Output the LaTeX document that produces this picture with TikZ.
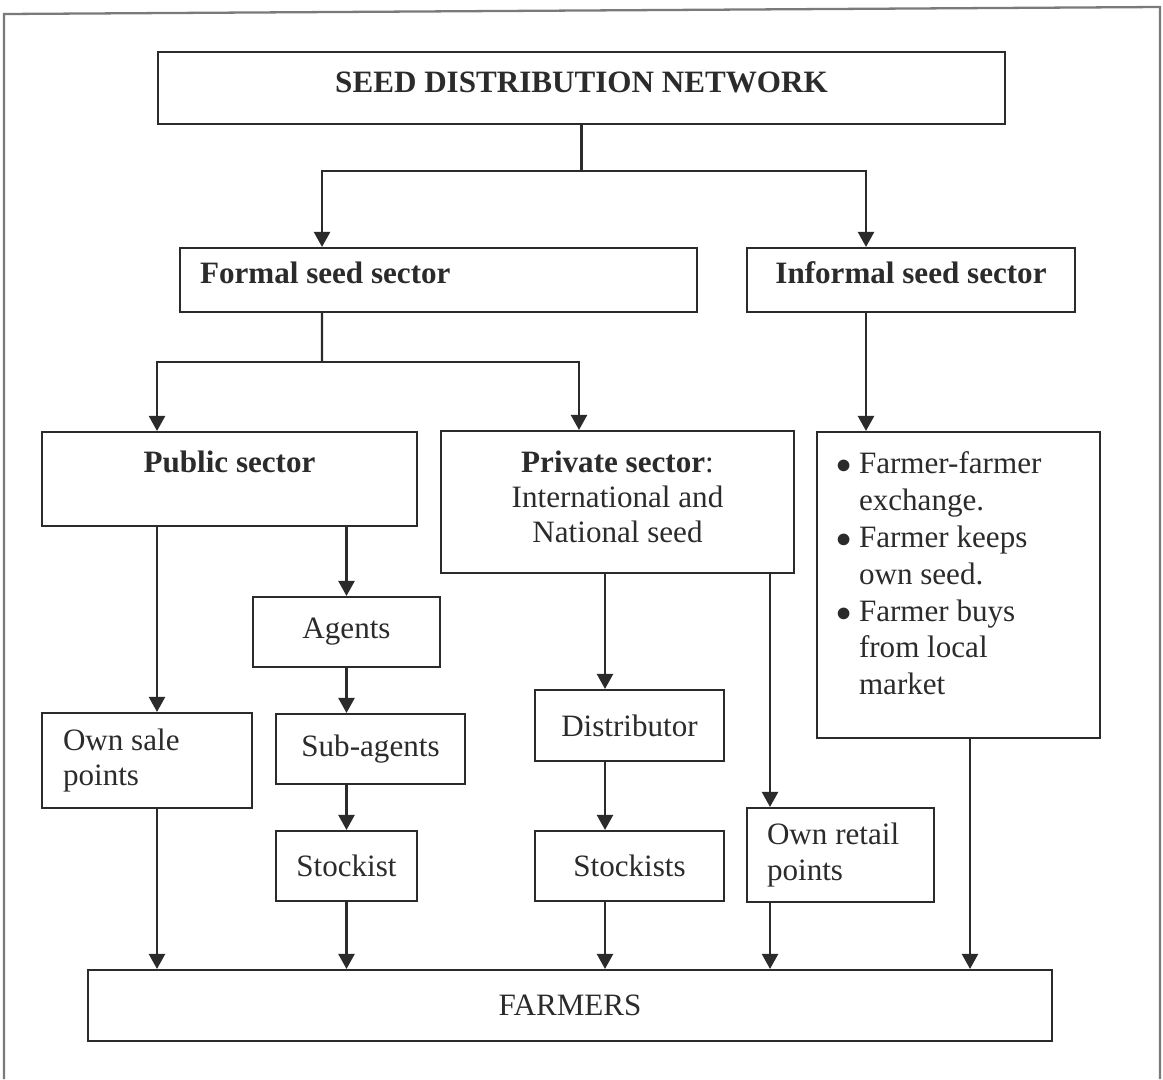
\documentclass[tikz,border=0pt]{standalone}
\usepackage{fontspec}
\setmainfont{Liberation Serif}
\usetikzlibrary{arrows.meta,positioning}
\definecolor{ink}{HTML}{2B2B2B}
\definecolor{framegray}{HTML}{7A7A7A}
\newcommand{\bitem}[1]{\makebox[0.46cm][l]{$\bullet$}#1}
\newcommand{\bcont}[1]{\hspace*{0.46cm}#1}

\begin{document}
\begin{tikzpicture}[x=0.02cm, y=-0.02cm,
    box/.style = {draw=ink, line width=1.2pt, inner sep=0pt, text=ink, font=\fontsize{17.7pt}{20pt}\selectfont},
    head/.style = {box, font=\fontsize{17.7pt}{20pt}\selectfont\bfseries},
    stem/.style = {ink, line width=1.3pt},
    arr/.style = {stem, -{Triangle[width=0.32cm,length=0.3cm]}}]
    \useasboundingbox (0,0) rectangle (1163,1079);
    \draw[framegray, line width=1.3pt] (4,1079) -- (4,14) -- (1160,7) -- (1160,1079);

    \node[head, minimum width=16.94cm, minimum height=1.44cm, text depth=0.24cm] (title) at (581.5,88) {SEED DISTRIBUTION NETWORK};
    \coordinate[below=0.92cm of title] (s1);
    \node[head, minimum width=10.34cm, minimum height=1.28cm, text depth=0.3cm] (formal) at (438.5,280) {\makebox[9.54cm][l]{Formal seed sector}};
    \node[head, minimum width=6.56cm, minimum height=1.28cm, text depth=0.3cm] (informal) at (911,280) {Informal seed sector};
    \coordinate (s2) at (322,362);
    \node[head, minimum width=7.5cm, minimum height=1.88cm, text depth=0.68cm] (public) at (229.5,479) {Public sector};
    \node[box, minimum width=7.06cm, minimum height=2.84cm, align=center] (private) at (617.5,502) {\textbf{Private sector}:\\International and\\National seed\\[-0.5cm]\mbox{}};
    \node[box, inner xsep=0.38cm, inner ysep=0.39cm] (informlist) at (958.5,585) {\parbox[c][5.34cm][t]{4.9cm}{\fontsize{17.7pt}{21pt}\selectfont
        \bitem{Farmer-farmer}\\ \bcont{exchange.}\\
        \bitem{Farmer keeps}\\ \bcont{own seed.}\\
        \bitem{Farmer buys}\\ \bcont{from local}\\ \bcont{market}}};
    \node[box, minimum width=4.2cm, minimum height=1.9cm, text width=3.36cm, inner xsep=0.42cm, align=flush left] (ownsale) at (147,760.5) {Own sale\\points};
    \node[box, minimum width=3.74cm, minimum height=1.4cm] (agents) at (346.5,632) {Agents};
    \node[box, minimum width=3.78cm, minimum height=1.4cm] (subagents) at (370.5,749) {Sub-agents};
    \node[box, minimum width=2.82cm, minimum height=1.4cm] (stockist) at (346.5,866) {Stockist};
    \node[box, minimum width=3.78cm, minimum height=1.42cm] (distributor) at (629.5,725.5) {Distributor};
    \node[box, minimum width=3.78cm, minimum height=1.4cm] (stockists) at (629.5,866) {Stockists};
    \node[box, minimum width=3.74cm, minimum height=1.88cm, text width=2.94cm, inner xsep=0.4cm, align=flush left] (ownretail) at (840.5,855) {Own retail\\points};
    \node[box, minimum width=19.28cm, minimum height=1.42cm] (farmers) at (570,1005.5) {FARMERS};

    % network and sectors
    \draw[stem] (title) -- (s1);
    \draw[arr] (s1) -| ([xshift=-2.33cm]formal.north);
    \draw[arr] (s1) -| ([xshift=-0.9cm]informal.north);
    \draw[stem] ([xshift=-2.33cm]formal.south) -- (s2);
    \draw[arr] (s2) -| ([xshift=-1.45cm]public.north);
    \draw[arr] (s2) -| ([xshift=-0.77cm]private.north);
    \draw[arr] ([xshift=-0.9cm]informal.south) -- ([xshift=-0.9cm]informal.south |- informlist.north);
    % public chain
    \draw[arr] ([xshift=0.2cm]ownsale.north |- public.south) -- ([xshift=0.2cm]ownsale.north);
    \draw[arr] (agents |- public.south) -- (agents);
    \draw[arr] (agents) -- (agents |- subagents.north);
    \draw[arr] (stockist |- subagents.south) -- (stockist);
    % private chain
    \draw[arr] ([xshift=-0.49cm]distributor.north |- private.south) -- ([xshift=-0.49cm]distributor.north);
    \draw[arr] ([xshift=-0.49cm]distributor.south) -- ([xshift=-0.49cm]stockists.north);
    \draw[arr] ([xshift=-1.41cm]ownretail.north |- private.south) -- ([xshift=-1.41cm]ownretail.north);
    % to farmers
    \draw[arr] ([xshift=0.2cm]ownsale.south) -- ([xshift=0.2cm]ownsale.south |- farmers.north);
    \draw[arr] (stockist) -- (stockist |- farmers.north);
    \draw[arr] ([xshift=-0.49cm]stockists.south) -- ([xshift=-0.49cm]stockists.south |- farmers.north);
    \draw[arr] ([xshift=-1.41cm]ownretail.south) -- ([xshift=-1.41cm]ownretail.south |- farmers.north);
    \draw[arr] ([xshift=0.23cm]informlist.south) -- ([xshift=0.23cm]informlist.south |- farmers.north);
\end{tikzpicture}
\end{document}
